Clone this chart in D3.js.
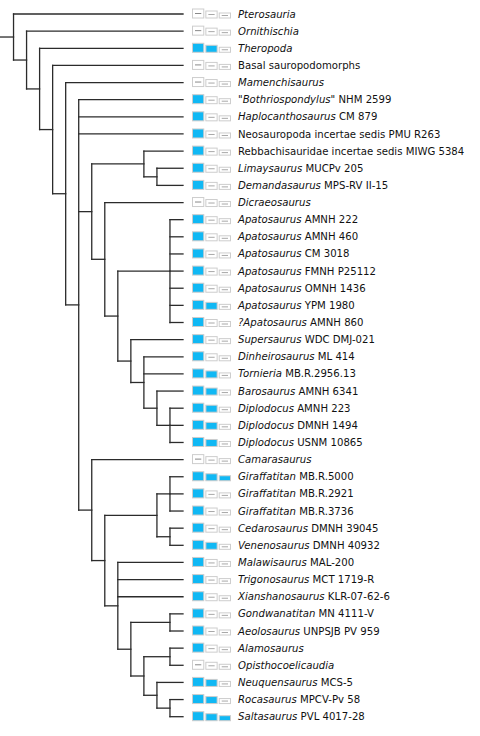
<!DOCTYPE html>
<html>
<head>
<meta charset="utf-8">
<script src="https://cdn.jsdelivr.net/npm/d3@7"></script>
<style>
html,body{margin:0;padding:0;background:#fff;}
svg{display:block;}
</style>
</head>
<body>
<svg id="chart" width="480" height="736"></svg>
<script>
// ---- DATA ----
// taxon labels (text between * * is italic)
const taxa = [
  "*Pterosauria*",
  "*Ornithischia*",
  "*Theropoda*",
  "Basal sauropodomorphs",
  "*Mamenchisaurus*",
  "\"*Bothriospondylus*\" NHM 2599",
  "*Haplocanthosaurus* CM 879",
  "Neosauropoda incertae sedis PMU R263",
  "Rebbachisauridae incertae sedis MIWG 5384",
  "*Limaysaurus* MUCPv 205",
  "*Demandasaurus* MPS-RV II-15",
  "*Dicraeosaurus*",
  "*Apatosaurus* AMNH 222",
  "*Apatosaurus* AMNH 460",
  "*Apatosaurus* CM 3018",
  "*Apatosaurus* FMNH P25112",
  "*Apatosaurus* OMNH 1436",
  "*Apatosaurus* YPM 1980",
  "*?Apatosaurus* AMNH 860",
  "*Supersaurus* WDC DMJ-021",
  "*Dinheirosaurus* ML 414",
  "*Tornieria* MB.R.2956.13",
  "*Barosaurus* AMNH 6341",
  "*Diplodocus* AMNH 223",
  "*Diplodocus* DMNH 1494",
  "*Diplodocus* USNM 10865",
  "*Camarasaurus*",
  "*Giraffatitan* MB.R.5000",
  "*Giraffatitan* MB.R.2921",
  "*Giraffatitan* MB.R.3736",
  "*Cedarosaurus* DMNH 39045",
  "*Venenosaurus* DMNH 40932",
  "*Malawisaurus* MAL-200",
  "*Trigonosaurus* MCT 1719-R",
  "*Xianshanosaurus* KLR-07-62-6",
  "*Gondwanatitan* MN 4111-V",
  "*Aeolosaurus* UNPSJB PV 959",
  "*Alamosaurus*",
  "*Opisthocoelicaudia*",
  "*Neuquensaurus* MCS-5",
  "*Rocasaurus* MPCV-Pv 58",
  "*Saltasaurus* PVL 4017-28"
];

// character states per taxon (1 = present / filled box)
const char1 = [0,0,1,0,0,1,1,1,1,1,1,0,1,1,1,1,1,1,1,1,1,1,1,1,1,1,0,1,1,1,1,1,1,1,1,1,1,1,0,1,1,1];
const char2 = [0,0,1,0,0,0,0,0,0,0,0,0,0,0,0,0,0,1,0,0,0,1,1,1,1,1,0,1,0,0,0,1,0,0,0,0,0,0,0,1,1,1];
const char3 = [0,0,0,0,0,0,0,0,0,0,0,0,0,0,0,0,0,0,0,0,0,0,0,0,0,0,0,1,0,0,0,0,0,0,0,0,0,0,0,0,0,1];

// tree topology: leaves are taxon indices, number after ")" is the clade's rank (column)
const newick = "(0,(1,(2,(3,(4,(5,6,7,((8,(9,10)12)11,(11,((12,13,14,15,16,17,18)13,(19,(20,21,(22,(23,24,25)13)12)11)10)9)8)7,(26,(((27,28,29)13,(30,31)13)12,(32,33,34,((35,36)13,((37,38)13,(39,(40,41)13)12)11)10)9)8)7)6)5)4)3)2)1";
const leafRank = 14;

// ---- PARSE ----
function parseNewick(s){
  let i = 0;
  function num(){ let t=""; while(i<s.length && /[0-9]/.test(s[i])) t+=s[i++]; return +t; }
  function node(){
    if (s[i] === "("){
      i++;
      const children = [node()];
      while (s[i] === ","){ i++; children.push(node()); }
      i++; // ')'
      return {children, level: num()};
    }
    return {leaf: num()};
  }
  return node();
}

const root = d3.hierarchy(parseNewick(newick));

// ---- SCALES ----
const x = d3.scaleLinear().domain([0, leafRank]).range([0.5, 183]);
const y = d3.scaleLinear().domain([0, taxa.length - 1]).range([14, 716.7]);
const col = d3.scaleBand().domain([0,1,2]).range([192, 231]).paddingInner(0.08);

root.eachAfter(n => {
  if (n.children){
    n.px = x(n.data.level);
    n.py = (n.children[0].py + n.children[n.children.length-1].py) / 2;
  } else {
    n.px = x(leafRank);
    n.py = y(n.data.leaf);
  }
});

const svg = d3.select("#chart");
const g = svg.append("g");

// ---- TREE ----
const lineColor = "#2b2b2b";
const paths = [];
paths.push(`M${x(0)},${root.py}H${root.px}`);
root.each(n => {
  if (n.children){
    const a = n.children[0].py, b = n.children[n.children.length-1].py;
    paths.push(`M${n.px},${a}V${b}`);
    n.children.forEach(c => paths.push(`M${n.px},${c.py}H${c.px}`));
  }
});
g.append("g").selectAll("path").data(paths).join("path")
  .attr("d", d => d)
  .attr("fill", "none")
  .attr("stroke", lineColor)
  .attr("stroke-width", 1.3)
  .attr("stroke-linecap", "square");

// ---- ICONS ----
const chars = [char1, char2, char3];
const heights = [10, 8, 6];
const blue = "#10b8f4";
const iconG = g.append("g");
taxa.forEach((t, i) => {
  const cy = y(i);
  chars.forEach((arr, k) => {
    const h = heights[k];
    const bx = col(k), bw = col.bandwidth();
    const by = cy + 4.5 - h;
    iconG.append("rect")
      .attr("x", bx + 0.5).attr("y", by + 0.5)
      .attr("width", bw - 1).attr("height", h - 1)
      .attr("fill", arr[i] ? blue : "#fff")
      .attr("stroke", "#cdcdcd").attr("stroke-width", 1);
    if (!arr[i]){
      iconG.append("line")
        .attr("x1", bx + 3).attr("x2", bx + bw - 3)
        .attr("y1", by + h/2).attr("y2", by + h/2)
        .attr("stroke", k === 0 ? "#8a8a8a" : "#a8a8a8").attr("stroke-width", 1);
    }
  });
});

// ---- LABELS ----
const labels = g.append("g")
  .attr("font-family", "'DejaVu Sans', sans-serif")
  .attr("font-size", 10.15)
  .attr("fill", "#111");
taxa.forEach((t, i) => {
  const txt = labels.append("text").attr("x", 238).attr("y", y(i)).attr("dy", "0.35em");
  t.split("*").forEach((seg, j) => {
    if (!seg) return;
    txt.append("tspan").text(seg).attr("font-style", j % 2 ? "italic" : "normal");
  });
});
</script>
</body>
</html>
